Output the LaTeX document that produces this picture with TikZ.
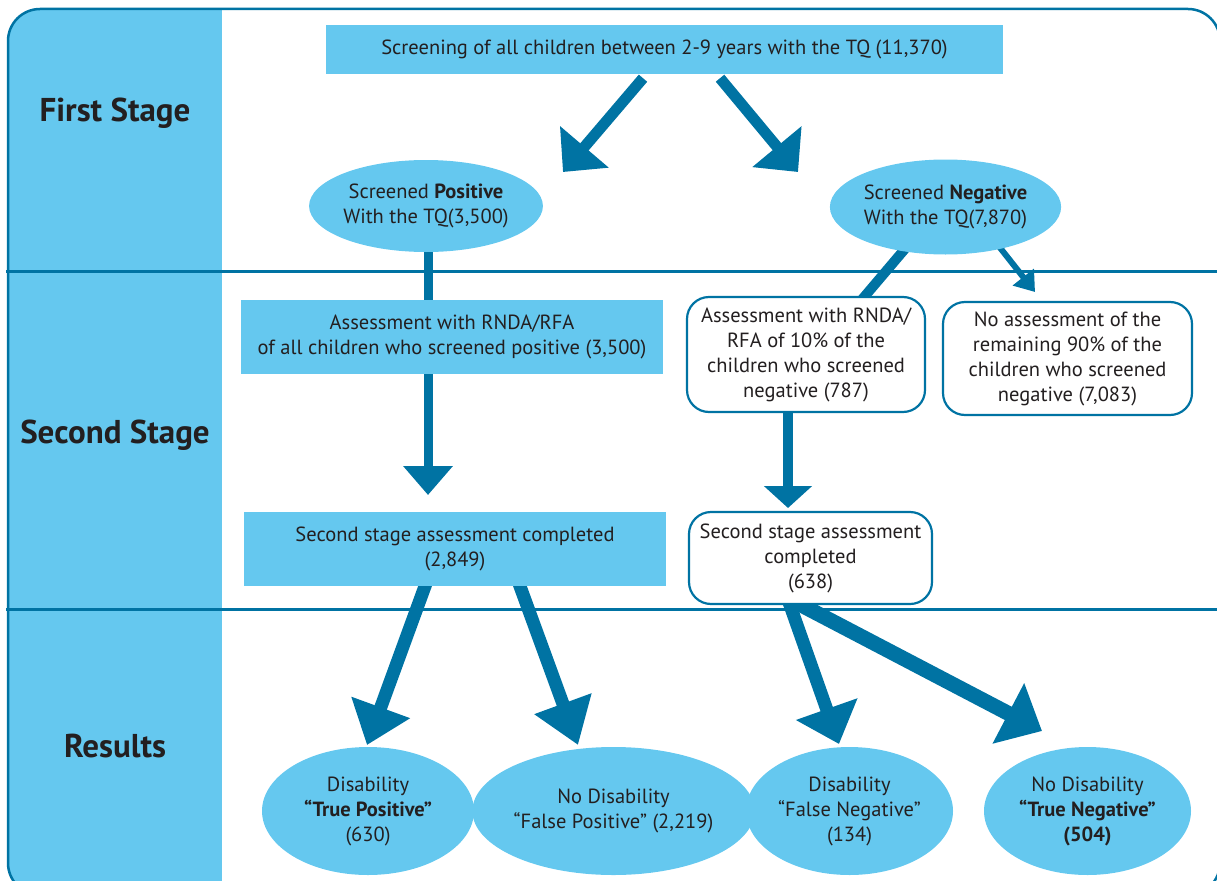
\documentclass[tikz,border=0pt]{standalone}
\usepackage{fontspec}
\setmainfont{PT Sans}
\usetikzlibrary{arrows.meta,shapes.geometric}
\definecolor{lblue}{HTML}{65C8EF}
\definecolor{dblue}{HTML}{0073A3}
\definecolor{ink}{HTML}{231F20}
\pgfdeclarelayer{framelayer}
\pgfdeclarelayer{connlayer}
\pgfsetlayers{framelayer,connlayer,main}
\begin{document}
\begin{tikzpicture}[x=1pt,y=-1pt,
  every node/.style={text=ink, font=\fontsize{20.5}{25}\selectfont, align=center, inner sep=0pt},
  fillbox/.style={rectangle, fill=lblue},
  whitebox/.style={rectangle, rounded corners=22pt, draw=dblue, line width=2.2pt, fill=white},
  oval/.style={ellipse, fill=lblue},
  stagelabel/.style={font=\fontsize{33}{38}\selectfont\bfseries},
  conn/.style={draw=dblue},
  bar/.style={conn, line width=#1},
  bigarrow/.style={conn, line width=13pt, -{Triangle[length=40pt,width=60pt]}},
]
\useasboundingbox (0,0) rectangle (1217,880);

% nodes
\node[fillbox, minimum width=677pt, minimum height=49pt] (top) at (664.5,49.5)
  {Screening of all children between 2-9 years with the TQ (11,370)};
\node[oval, minimum width=230pt, minimum height=92pt] (pos) at (426,206)
  {Screened \textbf{Positive}\\With the TQ(3,500)};
\node[oval, minimum width=229pt, minimum height=95pt] (neg) at (945.5,207)
  {Screened \textbf{Negative}\\With the TQ(7,870)};
\node[fillbox, minimum width=422pt, minimum height=74pt] (apos) at (452,337)
  {Assessment with RNDA/RFA\\of all children who screened positive (3,500)};
\node[whitebox, minimum width=238pt, minimum height=115pt] (aneg) at (806,354.5)
  {Assessment with RNDA/\\RFA of 10\% of the\\children who screened\\negative (787)};
\node[whitebox, minimum width=249pt, minimum height=113pt] (noas) at (1067.5,358.5)
  {No assessment of the\\remaining 90\% of the\\children who screened\\negative (7,083)};
\node[fillbox, minimum width=422pt, minimum height=74pt] (cpos) at (455,549)
  {Second stage assessment completed\\(2,849)};
\node[whitebox, minimum width=243pt, minimum height=92pt] (cneg) at (810.5,558)
  {Second stage assessment\\completed\\(638)};
\node[oval, minimum width=212pt, minimum height=128pt] (tp) at (368,811)
  {Disability\\\textbf{“True Positive”}\\(630)};
\node[oval, minimum width=211pt, minimum height=128pt] (fp) at (613.5,811)
  {No Disability\\“False Positive” (2,219)};
\node[oval, minimum width=207pt, minimum height=128pt] (fn) at (849.5,811)
  {Disability\\“False Negative”\\(134)};
\node[oval, minimum width=207pt, minimum height=128pt] (tn) at (1087.5,811)
  {No Disability\\\textbf{“True Negative”}\\\textbf{(504)}};

% stage labels
\node[stagelabel] (l1) at (115,113) {First Stage};
\node[stagelabel] (l2) at (115,435) {Second Stage};
\node[stagelabel] (l3) at (115,746) {Results};

% arrow tips
\coordinate (t1) at (563,172);
\coordinate (t2) at (798,172);
\coordinate (t3) at (428,495);
\coordinate (t4) at (1035,292);
\coordinate (t5) at (788,508);
\coordinate (t6) at (367,745);
\coordinate (t7) at (578,745);
\coordinate (t8) at (839,744);
\coordinate (t9) at (1042,731);

\begin{pgfonlayer}{framelayer}
  \begin{scope}
    \clip (0,0) rectangle (1217,880);
    \begin{scope}
      \clip[rounded corners=32pt] (8,9) rectangle (1220,895);
      \fill[lblue] (0,0) rectangle (222,900);
    \end{scope}
    \draw[dblue, line width=2.5pt, rounded corners=32pt] (8,9) rectangle (1220,895);
    \draw[dblue, line width=3pt] (6,271) -- (1217,271);
    \draw[dblue, line width=3pt] (6,609) -- (1217,609);
  \end{scope}
\end{pgfonlayer}

\begin{pgfonlayer}{connlayer}
  \draw[conn, line width=11pt, -{Triangle[length=33pt,width=62pt]}]
    ([xshift=-21.5pt,yshift=-4pt]top.south) -- (t1);
  \draw[conn, line width=11pt, -{Triangle[length=33pt,width=62pt]}]
    ([xshift=55.5pt,yshift=-4pt]top.south) -- (t2);
  \draw[bar=9pt] ([xshift=2pt]pos.center) -- ([xshift=2pt]pos.center |- apos.center);
  \draw[conn, line width=9pt, -{Triangle[length=29pt,width=48pt]}]
    ([xshift=2pt]pos.center |- apos.center) -- (t3);
  \draw[bar=10pt] ([xshift=-5pt]neg.center) -- ([xshift=48pt,yshift=-13pt]aneg.north);
  \draw[conn, line width=6pt, -{Triangle[length=19pt,width=26pt]}]
    ([xshift=40.5pt,yshift=-23pt]neg.center) -- (t4);
  \draw[conn, line width=10pt, -{Triangle[length=22pt,width=47pt]}]
    ([xshift=-18pt]aneg.center) -- (t5);
  \draw[bigarrow] ([xshift=-20.5pt,yshift=26pt]cpos.south) -- (t6);
  \draw[bigarrow, -{Triangle[length=44pt,width=58pt]}] ([xshift=55.5pt,yshift=26pt]cpos.south) -- (t7);
  \draw[bigarrow, -{Triangle[length=37pt,width=63pt]}] ([xshift=-29pt,yshift=24pt]cneg.south) -- (t8);
  \draw[bigarrow, line width=15pt, -{Triangle[length=38pt,width=66pt]}] ([xshift=-22.5pt,yshift=7pt]cneg.south) -- (t9);
\end{pgfonlayer}
\end{tikzpicture}
\end{document}
